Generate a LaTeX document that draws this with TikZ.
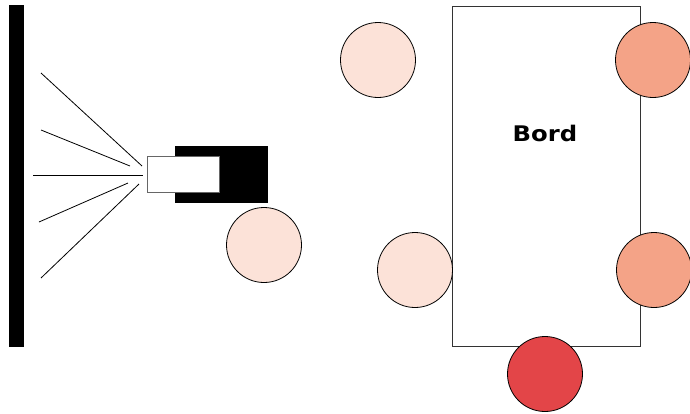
\documentclass[tikz,border=0pt]{standalone}
\usepackage{fontspec}
\newfontfamily\labelfont{DejaVu Sans}[FakeStretch=1.13]
\definecolor{seatlight}{HTML}{FCE2D8}
\definecolor{seatmid}{HTML}{F4A387}
\definecolor{seatred}{HTML}{E34548}
\definecolor{lensedge}{HTML}{666666}
\tikzset{
  seat/.style={circle, draw=black, line width=0.8pt, minimum size=75pt, inner sep=0pt},
  ray/.style={draw=black, line width=0.8pt},
}
\begin{document}
\begin{tikzpicture}[x=1pt, y=-1pt]
\useasboundingbox (0,0) rectangle (690,413);
% wall / screen
\node[fill=black, minimum width=15pt, minimum height=342pt, inner sep=0pt, anchor=north west] (wall) at (9,5) {};
% projector body and lens
\node[fill=black, minimum width=93pt, minimum height=57pt, inner sep=0pt, anchor=north west] (body) at (175,146) {};
\node[fill=white, draw=lensedge, line width=0.8pt, minimum width=72pt, minimum height=36pt, inner sep=0pt, anchor=north west] (lens) at (147,156) {};
% light rays
\coordinate (r1a) at (41,73);   \coordinate (r1b) at (142,166);
\coordinate (r2a) at (41,130);  \coordinate (r2b) at (130,166);
\coordinate (r3a) at (33,175);  \coordinate (r3b) at (143,175);
\coordinate (r4a) at (39,222);  \coordinate (r4b) at (128,183);
\coordinate (r5a) at (41,278);  \coordinate (r5b) at (139,184);
\foreach \i in {1,...,5} \draw[ray] (r\i a) -- (r\i b);
% table
\node[draw=black!80, line width=0.8pt, fill=white, minimum width=188pt, minimum height=340pt, inner sep=0pt, anchor=north west] (table) at (452,6) {};
\node[font=\labelfont\bfseries\fontsize{21.5}{24}\selectfont] (bord) at (545,133) {Bord};
% seats
\node[seat, fill=seatlight] (s1) at (264,245) {};
\node[seat, fill=seatlight] (s2) at (378,60) {};
\node[seat, fill=seatlight] (s3) at (415,270) {};
\node[seat, fill=seatmid] (s4) at (653,60) {};
\node[seat, fill=seatmid] (s5) at (654,270) {};
\node[seat, fill=seatred] (s6) at (545,374) {};
\end{tikzpicture}
\end{document}
